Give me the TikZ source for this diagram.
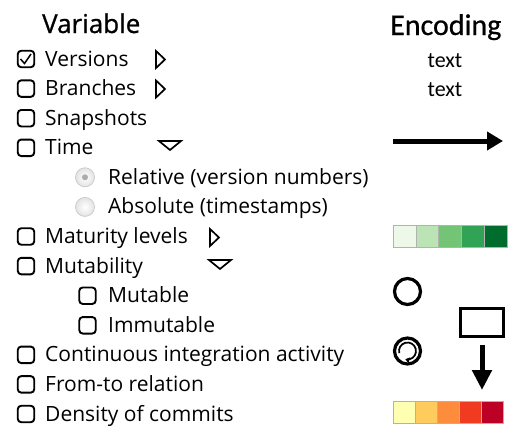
\documentclass[tikz,border=0pt]{standalone}
\usepackage{fontspec}
\setmainfont{Open Sans}
\newfontfamily\headfont[FakeBold=0.8]{Open Sans}
\newfontfamily\encfont{Carlito}
\newfontfamily\encheadfont[FakeBold=0.6]{Carlito}
\usetikzlibrary{arrows.meta}
\definecolor{grnA}{HTML}{EDF8E9}
\definecolor{grnB}{HTML}{BAE4B3}
\definecolor{grnC}{HTML}{74C476}
\definecolor{grnD}{HTML}{31A354}
\definecolor{grnE}{HTML}{006D2C}
\definecolor{redA}{HTML}{FFFFB2}
\definecolor{redB}{HTML}{FECC5C}
\definecolor{redC}{HTML}{FD8D3C}
\definecolor{redD}{HTML}{F03B20}
\definecolor{redE}{HTML}{BD0026}
\begin{document}
\begin{tikzpicture}[x=1pt,y=-1pt,
    box/.style={draw,line width=1.9pt,rounded corners=3.5pt,minimum size=16.5pt,inner sep=0pt},
    item/.style={anchor=base west,inner sep=0pt,font=\fontsize{21}{24}\selectfont},
    radio/.style={circle,draw=gray!40,line width=0.8pt,minimum size=19pt,inner sep=0pt,inner color=white,outer color=gray!22},
    tri/.style={line width=1.7pt,line join=miter},
    cell/.style={draw=black!30,line width=0.4pt,minimum height=22pt,inner sep=0pt},
    ring/.style={circle,draw,line width=3.2pt,minimum size=26pt,inner sep=0pt}]
  \useasboundingbox (0,0) rectangle (520,437);
  % headings
  \node[anchor=base west,inner sep=0pt,font=\headfont\fontsize{26}{30}\selectfont] (varhead) at (42,33) {Variable};
  \node[anchor=base west,inner sep=0pt,font=\encheadfont\fontsize{30}{34}\selectfont] (enchead) at (390,35) {Encoding};
  % variables
  \node[box] (cbVersions) at (26,59) {};
  \draw[line width=1.5pt] (20.5,59) -- (24.5,63.5) -- (31,54);
  \node[item] (tVersions) at (45,66) {Versions};
  \draw[tri] (156,51) -- (165,59.5) -- (156,68) -- cycle;
  \node[box] (cbBranches) at (26,88.6) {};
  \node[item] (tBranches) at (45,95.6) {Branches};
  \draw[tri] (156,80.5) -- (165,89) -- (156,97.5) -- cycle;
  \node[box] (cbSnapshots) at (26,118.2) {};
  \node[item] (tSnapshots) at (45,125.2) {Snapshots};
  \node[box] (cbTime) at (26,147.8) {};
  \node[item] (tTime) at (45,154.8) {Time};
  \draw[tri] (159,141) -- (181,141) -- (170,150) -- cycle;
  \node[radio] (rRelative) at (85,177.3) {};
  \fill[gray!65] (rRelative) circle[radius=3];
  \node[item] (tRelative) at (108,184.3) {Relative (version numbers)};
  \node[radio] (rAbsolute) at (85,206.9) {};
  \node[item] (tAbsolute) at (108,213.9) {Absolute (timestamps)};
  \node[box] (cbMaturity) at (26,236.5) {};
  \node[item] (tMaturity) at (45,243.5) {Maturity levels};
  \draw[tri] (210,229) -- (219,237.5) -- (210,246) -- cycle;
  \node[box] (cbMutability) at (26,266.1) {};
  \node[item] (tMutability) at (45,273.1) {Mutability};
  \draw[tri] (209,260) -- (231,260) -- (220,269) -- cycle;
  \node[box] (cbMutable) at (87.5,295.7) {};
  \node[item] (tMutable) at (108,302.7) {Mutable};
  \node[box] (cbImmutable) at (87.5,325.3) {};
  \node[item] (tImmutable) at (108,332.3) {Immutable};
  \node[box] (cbCI) at (26,354.8) {};
  \node[item] (tCI) at (45,361.8) {Continuous integration activity};
  \node[box] (cbFromTo) at (26,384.4) {};
  \node[item] (tFromTo) at (45,391.4) {From-to relation};
  \node[box] (cbDensity) at (26,414) {};
  \node[item] (tDensity) at (45,421) {Density of commits};
  % encodings
  \node[font=\encfont\fontsize{22}{24}\selectfont,anchor=base,inner sep=0pt] (encVersions) at (445,67) {text};
  \node[font=\encfont\fontsize{22}{24}\selectfont,anchor=base,inner sep=0pt] (encBranches) at (445,96.5) {text};
  \coordinate (timeA) at (393,141);
  \coordinate (timeB) at (503,141);
  \draw[line width=5pt,-{Triangle[length=16pt,width=18pt]}] (timeA) -- (timeB);
  \foreach \c [count=\i from 0] in {grnA,grnB,grnC,grnD,grnE}
    \node[cell,fill=\c,minimum width=22.8pt] (mat\i) at (404.4+22.8*\i,236) {};
  \node[ring] (mutable) at (407.5,291.5) {};
  \node[ring] (ci) at (407.5,351) {};
  \draw[line width=1.7pt,-{Triangle[length=4pt,width=5.5pt]}] ([shift={(165:8.5)}]ci.center) arc[start angle=165,end angle=465,radius=8.5];
  \node[draw,line width=3.4pt,minimum width=42.5pt,minimum height=27.5pt,inner sep=0pt] (frombox) at (482,322.5) {};
  \coordinate (fromend) at (482,390);
  \draw[line width=5pt,-{Triangle[length=20pt,width=19pt]}] ([yshift=-7pt]frombox.south) -- (fromend);
  \foreach \c [count=\i from 0] in {redA,redB,redC,redD,redE}
    \node[cell,fill=\c,minimum width=22pt] (dens\i) at (404+22*\i,412) {};
\end{tikzpicture}
\end{document}
